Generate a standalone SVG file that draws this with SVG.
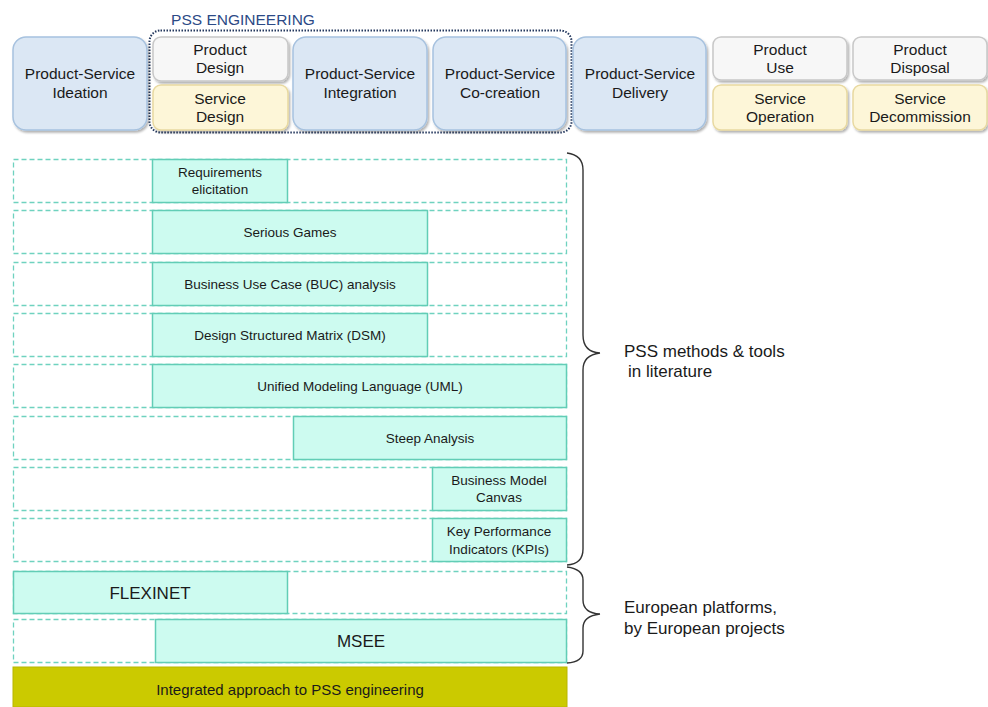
<svg xmlns="http://www.w3.org/2000/svg" width="988" height="707" viewBox="0 0 988 707">
  <defs>
    <filter id="shadow" x="-10%" y="-10%" width="130%" height="130%">
      <feDropShadow dx="1.5" dy="2" stdDeviation="1.2" flood-color="#000" flood-opacity="0.3"/>
    </filter>
  </defs>
  <style>
    text { font-family: "Liberation Sans", Arial, sans-serif; fill: #1a1a1a; text-anchor: middle; }
    .phase { fill: #dbe7f4; stroke: #a7c2df; stroke-width: 1.5; filter: url(#shadow); }
    .prod { fill: #f7f7f7; stroke: #c8c8c8; stroke-width: 1.5; filter: url(#shadow); }
    .serv { fill: #fdf6d8; stroke: #e8d9a0; stroke-width: 1.5; filter: url(#shadow); }
    .top { font-size: 15.5px; }
    .row { fill: none; stroke: #6fd2bf; stroke-width: 1.3; stroke-dasharray: 5 3; }
    .tool { fill: #cdfbf0; stroke: #62cdb6; stroke-width: 1.5; }
    .tl { font-size: 13.5px; }
    .big { font-size: 17px; }
    .brace { fill: none; stroke: #333; stroke-width: 1.4; }
    .side { font-size: 17px; text-anchor: start; }
  </style>

  <!-- lifecycle phases -->
  <g id="pss-engineering-frame">
    <rect x="149.5" y="30.5" width="422" height="102" rx="11" fill="none" stroke="#24385e" stroke-width="2" stroke-dasharray="1.5 1.5"/>
    <text x="243" y="25" style="font-size:15.5px; fill:#2c4a86">PSS ENGINEERING</text>
  </g>
  <g id="ideation">
    <rect class="phase" x="13" y="37" width="134" height="93" rx="13"/>
    <text class="top" x="80" y="79">Product-Service</text>
    <text class="top" x="80" y="98">Ideation</text>
  </g>
  <g id="product-design">
    <rect class="prod" x="153" y="37" width="135" height="44" rx="8"/>
    <text class="top" x="220" y="55">Product</text>
    <text class="top" x="220" y="73">Design</text>
  </g>
  <g id="service-design">
    <rect class="serv" x="153" y="85" width="135" height="45" rx="8"/>
    <text class="top" x="220" y="104">Service</text>
    <text class="top" x="220" y="122">Design</text>
  </g>
  <g id="integration">
    <rect class="phase" x="293" y="37" width="134" height="93" rx="13"/>
    <text class="top" x="360" y="79">Product-Service</text>
    <text class="top" x="360" y="98">Integration</text>
  </g>
  <g id="co-creation">
    <rect class="phase" x="433" y="37" width="133" height="93" rx="13"/>
    <text class="top" x="500" y="79">Product-Service</text>
    <text class="top" x="500" y="98">Co-creation</text>
  </g>
  <g id="delivery">
    <rect class="phase" x="573" y="37" width="133" height="93" rx="13"/>
    <text class="top" x="640" y="79">Product-Service</text>
    <text class="top" x="640" y="98">Delivery</text>
  </g>
  <g id="product-use">
    <rect class="prod" x="713" y="37" width="134" height="43" rx="8"/>
    <text class="top" x="780" y="55">Product</text>
    <text class="top" x="780" y="73">Use</text>
  </g>
  <g id="service-operation">
    <rect class="serv" x="713" y="85" width="134" height="45" rx="8"/>
    <text class="top" x="780" y="104">Service</text>
    <text class="top" x="780" y="122">Operation</text>
  </g>
  <g id="product-disposal">
    <rect class="prod" x="853" y="37" width="134" height="43" rx="8"/>
    <text class="top" x="920" y="55">Product</text>
    <text class="top" x="920" y="73">Disposal</text>
  </g>
  <g id="service-decommission">
    <rect class="serv" x="853" y="85" width="134" height="45" rx="8"/>
    <text class="top" x="920" y="104">Service</text>
    <text class="top" x="920" y="122">Decommission</text>
  </g>

  <!-- methods and tools, one dashed lane each -->
  <g id="requirements">
    <rect class="row" x="13.5" y="159.5" width="553" height="43"/>
    <rect class="tool" x="152.5" y="159.5" width="135" height="43"/>
    <text class="tl" x="220" y="177">Requirements</text>
    <text class="tl" x="220" y="194">elicitation</text>
  </g>
  <g id="serious-games">
    <rect class="row" x="13.5" y="210.5" width="553" height="43"/>
    <rect class="tool" x="152.5" y="210.5" width="275" height="43"/>
    <text class="tl" x="290" y="237">Serious Games</text>
  </g>
  <g id="buc">
    <rect class="row" x="13.5" y="262.5" width="553" height="43"/>
    <rect class="tool" x="152.5" y="262.5" width="275" height="43"/>
    <text class="tl" x="290" y="289">Business Use Case (BUC) analysis</text>
  </g>
  <g id="dsm">
    <rect class="row" x="13.5" y="313.5" width="553" height="43"/>
    <rect class="tool" x="152.5" y="313.5" width="275" height="43"/>
    <text class="tl" x="290" y="340">Design Structured Matrix (DSM)</text>
  </g>
  <g id="uml">
    <rect class="row" x="13.5" y="364.5" width="553" height="43"/>
    <rect class="tool" x="152.5" y="364.5" width="414" height="43"/>
    <text class="tl" x="360" y="391">Unified Modeling Language (UML)</text>
  </g>
  <g id="steep">
    <rect class="row" x="13.5" y="416.5" width="553" height="43"/>
    <rect class="tool" x="293.5" y="416.5" width="273" height="43"/>
    <text class="tl" x="430" y="443">Steep Analysis</text>
  </g>
  <g id="bmc">
    <rect class="row" x="13.5" y="467.5" width="553" height="43"/>
    <rect class="tool" x="432.5" y="467.5" width="134" height="43"/>
    <text class="tl" x="499" y="485">Business Model</text>
    <text class="tl" x="499" y="502">Canvas</text>
  </g>
  <g id="kpi">
    <rect class="row" x="13.5" y="518.5" width="553" height="43"/>
    <rect class="tool" x="432.5" y="518.5" width="134" height="43"/>
    <text class="tl" x="499" y="536">Key Performance</text>
    <text class="tl" x="499" y="554">Indicators (KPIs)</text>
  </g>

  <!-- European platforms -->
  <g id="flexinet">
    <rect class="row" x="13.5" y="571.5" width="553" height="42"/>
    <rect class="tool" x="13.5" y="571.5" width="274" height="42"/>
    <text class="big" x="150" y="599">FLEXINET</text>
  </g>
  <g id="msee">
    <rect class="row" x="13.5" y="619.5" width="553" height="43"/>
    <rect class="tool" x="155.5" y="619.5" width="411" height="43"/>
    <text class="big" x="361" y="647">MSEE</text>
  </g>

  <g id="integrated-approach">
    <rect x="13" y="667" width="554" height="40" fill="#cbca00" stroke="#b8b600" stroke-width="1"/>
    <text x="290" y="695" style="font-size:15px">Integrated approach to PSS engineering</text>
  </g>

  <!-- grouping braces -->
  <g id="braces">
    <path class="brace" d="M567 153 Q583 155 583 170 L583 335 Q583 352 600 353 Q583 355 583 370 L583 549 Q583 564 567 565"/>
    <path class="brace" d="M567 567 Q583 569 583 580 L583 600 Q583 613 600 614 Q583 616 583 628 L583 651 Q583 662 567 663"/>
  </g>
  <g id="labels">
    <text class="side" x="624" y="357">PSS methods &amp; tools</text>
    <text class="side" x="628" y="377">in literature</text>
    <text class="side" x="624" y="613">European platforms,</text>
    <text class="side" x="624" y="634">by European projects</text>
  </g>
</svg>
